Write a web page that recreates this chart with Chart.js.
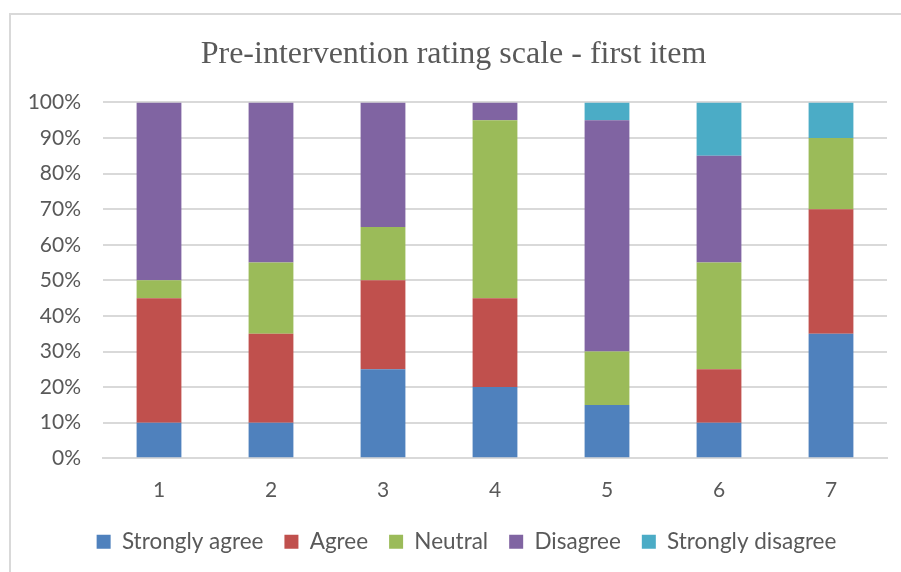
<!DOCTYPE html>
<html>
<head>
<meta charset="utf-8">
<script src="https://cdn.jsdelivr.net/npm/chart.js@4"></script>
<style>
  html, body { margin: 0; padding: 0; background: #fff; }
  #frame { position: absolute; left: 9px; top: 13px; width: 900px; height: 570px; border-top: 2px solid #d9d9d9; border-left: 2px solid #d9d9d9; }
  #wrap { position: absolute; left: 0; top: 0; width: 901px; height: 572px; }
</style>
</head>
<body>
<div id="frame"></div>
<div id="wrap"><canvas id="bar-chart"></canvas></div>
<script>
const items = ["1", "2", "3", "4", "5", "6", "7"];
const stronglyAgree = [10, 10, 25, 20, 15, 10, 35];
const agree = [35, 25, 25, 25, 0, 15, 35];
const neutral = [5, 20, 15, 50, 15, 30, 20];
const disagree = [50, 45, 35, 5, 65, 30, 0];
const stronglyDisagree = [0, 0, 0, 0, 5, 15, 10];

const grey = "#595959";
const sans = "Lato, 'Open Sans', sans-serif";

function series(label, data, color) {
    return {
        label: label,
        data: data,
        backgroundColor: color,
        borderWidth: 0,
        barPercentage: 0.8,
        categoryPercentage: 0.5
    };
}

// nudge the legend a bit right, the original centres it under the plot
const legendShift = {
    id: 'legendShift',
    afterLayout(chart) {
        chart.legend.left += 13;
        chart.legend.right += 13;
    }
};

const bar = document.getElementById("bar-chart").getContext("2d");

new Chart(bar, {
    type: 'bar',
    data: {
        labels: items,
        datasets: [
            series("Strongly agree", stronglyAgree, "#4f81bd"),
            series("Agree", agree, "#c0504d"),
            series("Neutral", neutral, "#9bbb59"),
            series("Disagree", disagree, "#8064a2"),
            series("Strongly disagree", stronglyDisagree, "#4bacc6")
        ]
    },
    options: {
        responsive: true,
        maintainAspectRatio: false,
        animation: false,
        layout: { padding: { left: 20, right: 14, top: 35, bottom: 9 } },
        plugins: {
            title: {
                display: true,
                text: 'Pre-intervention rating scale - first item',
                color: grey,
                font: { family: "'Liberation Serif', 'Times New Roman', serif", size: 32, weight: 'normal' },
                padding: { top: 0, bottom: 29 }
            },
            legend: {
                position: 'bottom',
                labels: {
                    color: grey,
                    font: { family: sans, size: 22.5 },
                    boxWidth: 14,
                    boxHeight: 14,
                    padding: 21
                }
            },
            tooltip: { enabled: false }
        },
        scales: {
            x: {
                stacked: true,
                afterFit: function (scale) { scale.height -= 4; },
                grid: { display: false },
                border: { color: "#d9d9d9", width: 2 },
                ticks: { color: grey, font: { family: sans, size: 21 }, padding: 11 }
            },
            y: {
                stacked: true,
                min: 0,
                max: 100,
                afterFit: function (scale) { scale.width = 83; },
                grid: { color: "#d9d9d9", lineWidth: 2, drawTicks: false },
                border: { display: false },
                ticks: {
                    stepSize: 10,
                    color: grey,
                    font: { family: sans, size: 21 },
                    padding: 22,
                    callback: function (v) { return v + "%"; }
                }
            }
        }
    },
    plugins: [legendShift]
});
</script>
</body>
</html>
